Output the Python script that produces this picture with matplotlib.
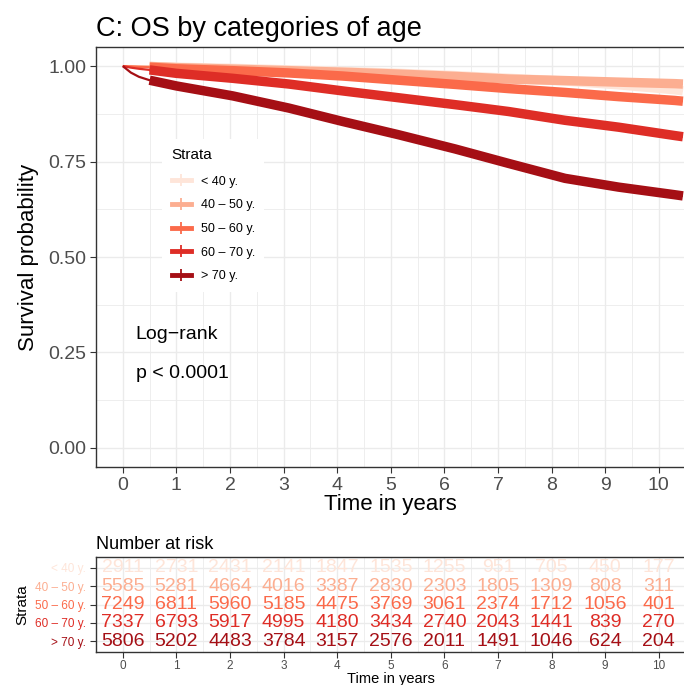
import matplotlib
matplotlib.use("Agg")
import matplotlib.pyplot as plt
from matplotlib.lines import Line2D
from matplotlib.ticker import MultipleLocator

plt.rcParams['font.family'] = ['Liberation Sans', 'DejaVu Sans']

# strata and colours (brewer Reds, 5 classes)
strata = ["< 40 y.", "40 \u2013 50 y.", "50 \u2013 60 y.", "60 \u2013 70 y.", "> 70 y."]
colors = ["#FEE5D9", "#FCAE91", "#FB6A4A", "#DE2D26", "#A50F15"]

# survival estimates (time in years)
times = [0, 0.15, 0.3, 0.5, 1.0, 2.05, 3.1, 4.1, 5.15, 6.2, 7.2, 8.25, 9.25, 10.3, 10.45]
surv_lt40 = [1.0, 1.0, 1.0, 0.999, 0.997, 0.994, 0.990, 0.986, 0.981, 0.975, 0.968, 0.961, 0.951, 0.938, 0.935]
surv_40_50 = [1.0, 1.0, 0.999, 0.999, 0.996, 0.992, 0.988, 0.984, 0.979, 0.973, 0.966, 0.962, 0.958, 0.954, 0.953]
surv_50_60 = [1.0, 0.999, 0.998, 0.997, 0.993, 0.988, 0.982, 0.974, 0.963, 0.952, 0.941, 0.931, 0.920, 0.910, 0.908]
surv_60_70 = [1.0, 0.996, 0.993, 0.990, 0.981, 0.968, 0.953, 0.935, 0.917, 0.899, 0.881, 0.858, 0.840, 0.818, 0.815]
surv_gt70 = [1.0, 0.983, 0.972, 0.963, 0.948, 0.922, 0.890, 0.855, 0.820, 0.783, 0.745, 0.706, 0.683, 0.663, 0.660]
surv = [surv_lt40, surv_40_50, surv_50_60, surv_60_70, surv_gt70]

# number at risk table
risk_times = [0, 1, 2, 3, 4, 5, 6, 7, 8, 9, 10]
risk_lt40 = [2911, 2731, 2431, 2141, 1847, 1535, 1255, 951, 705, 450, 177]
risk_40_50 = [5585, 5281, 4664, 4016, 3387, 2830, 2303, 1805, 1309, 808, 311]
risk_50_60 = [7249, 6811, 5960, 5185, 4475, 3769, 3061, 2374, 1712, 1056, 401]
risk_60_70 = [7337, 6793, 5917, 4995, 4180, 3434, 2740, 2043, 1441, 839, 270]
risk_gt70 = [5806, 5202, 4483, 3784, 3157, 2576, 2011, 1491, 1046, 624, 204]
risk = [risk_lt40, risk_40_50, risk_50_60, risk_60_70, risk_gt70]

W, H = 684, 685
fig = plt.figure(figsize=(W / 100, H / 100), dpi=100)

xmin, xmax = -0.5, 10.5
px_per_year = 53.6
ax_w = (xmax - xmin) * px_per_year / W


def style_axes(ax, tick_size):
    ax.set_facecolor("white")
    for s in ax.spines.values():
        s.set_color("#333333")
        s.set_linewidth(1.0)
    ax.tick_params(axis="both", colors="#333333", length=4, width=0.8, pad=3,
                   labelsize=tick_size, labelcolor="#4D4D4D")
    ax.grid(which="major", color="#EBEBEB", linewidth=1.0)
    ax.grid(which="minor", color="#EBEBEB", linewidth=0.6)
    ax.set_axisbelow(True)


# ---- main survival plot
ax = fig.add_axes([96 / W, 1 - 467 / H, ax_w, 420 / H])
style_axes(ax, 14)
ax.set_xlim(xmin, xmax)
ax.set_ylim(-0.05, 1.05)
ax.xaxis.set_major_locator(MultipleLocator(1))
ax.xaxis.set_minor_locator(MultipleLocator(0.5))
ax.set_yticks([0, 0.25, 0.5, 0.75, 1.0])
ax.set_yticklabels(["0.00", "0.25", "0.50", "0.75", "1.00"])
ax.yaxis.set_minor_locator(MultipleLocator(0.125))
ax.tick_params(which="minor", length=0)

for name, col, s in zip(strata, colors, surv):
    ax.plot(times, s, color=col, lw=1.6, solid_capstyle="butt", zorder=3)
    i0 = times.index(0.5)
    # dense censoring marks make the curve look like a thick band
    ax.plot(times[i0:], s[i0:], color=col, lw=6.8, solid_capstyle="butt", zorder=3)

ax.set_title("C: OS by categories of age", loc="left", fontsize=19.5, pad=8)
ax.set_xlabel("Time in years", fontsize=16, labelpad=0)
ax.set_ylabel("Survival probability", fontsize=16, labelpad=7)

ax.text(0.24, 0.298, "Log\u2212rank", fontsize=14, va="center")
ax.text(0.24, 0.196, "p < 0.0001", fontsize=14, va="center")

handles = [Line2D([], [], color=c, lw=3.5, marker="+", markersize=8, markeredgewidth=1.3)
           for c in colors]
leg = ax.legend(handles, strata, title="Strata", loc="upper left",
                bbox_to_anchor=(0.102, 0.797), fontsize=9, title_fontsize=11,
                frameon=True, fancybox=False, framealpha=1, edgecolor="none",
                facecolor="white", handlelength=1.5, labelspacing=0.93,
                borderpad=0.75, handletextpad=0.8)
leg._legend_box.align = "left"
leg._legend_box.sep = 10

# ---- risk table
rx = fig.add_axes([96 / W, 1 - 652 / H, ax_w, 95 / H])
style_axes(rx, 8.5)
rx.tick_params(axis="x", pad=2)
rx.set_xlim(xmin, xmax)
rx.set_ylim(0.4, 5.6)
rx.xaxis.set_major_locator(MultipleLocator(1))
rx.xaxis.set_minor_locator(MultipleLocator(0.5))
rx.tick_params(which="minor", length=0)
ypos = [5, 4, 3, 2, 1]
rx.set_yticks(ypos)
rx.set_yticklabels(strata, fontsize=8.5)
for lab, c in zip(rx.get_yticklabels(), colors):
    lab.set_color(c)
for y, col, counts in zip(ypos, colors, risk):
    for t, n in zip(risk_times, counts):
        rx.text(t, y, str(n), color=col, fontsize=14, ha="center", va="center")
rx.set_title("Number at risk", loc="left", fontsize=13, pad=6)
rx.set_xlabel("Time in years", fontsize=10.5, labelpad=0)
rx.set_ylabel("Strata", fontsize=11, labelpad=4)

fig.savefig("out.png", dpi=100)
